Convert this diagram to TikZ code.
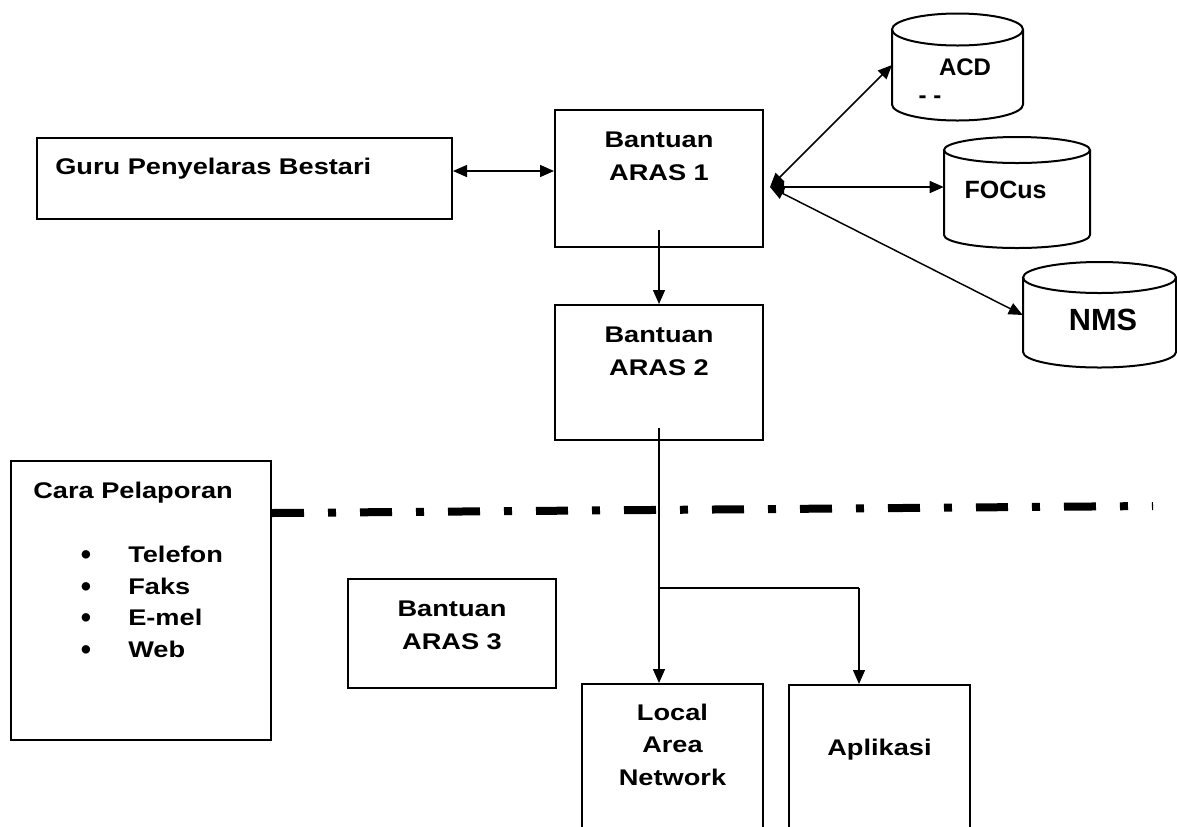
\documentclass[tikz,border=0pt]{standalone}
\usepackage{fontspec}
\setmainfont{Liberation Sans}
\newfontfamily\widefont{Liberation Sans}[FakeStretch=1.2]
\usetikzlibrary{arrows.meta,fit}

% cylinder: left x, right x, top-centre y, bottom-centre y, y radius
\newcommand\drumshape[5]{%
  \draw[cylline] (#1,#3) -- (#1,#4)
    arc[start angle=180,end angle=0,x radius={(#2-#1)/2},y radius=#5] -- (#2,#3);
  \draw[cylline] ({(#1+#2)/2},#3) ellipse[x radius={(#2-#1)/2},y radius=#5];}

\begin{document}
\begin{tikzpicture}[x=0.75pt,y=-0.75pt,
  box/.style={draw,line width=1.5pt,inner sep=0pt},
  ghost/.style={inner sep=0pt},
  txt/.style={font=\widefont\bfseries\fontsize{17}{20}\selectfont,inner sep=0pt},
  dbtxt/.style={font=\bfseries\fontsize{#1}{#1}\selectfont,inner sep=0pt},
  cylline/.style={line width=1.5pt},
  conn/.style={line width=1.1pt},
  tip/.style={-{Triangle[length=10.5pt,width=9pt]}},
  bitip/.style={{Triangle[length=10.5pt,width=9pt]}-{Triangle[length=10.5pt,width=9pt]}},
  dashdot/.style={line width=6pt,dash pattern=on 24pt off 18pt on 6pt off 18pt}]
\useasboundingbox (0,0) rectangle (1177,826);
\clip (0,0) rectangle (1177,826);

% boxes
\node[box,fit={(37,138)(452,219)}] (guru) {};
\node[box,fit={(555,110)(763,247)}] (aras1) {};
\node[box,fit={(555,305)(763,440)}] (aras2) {};
\node[box,fit={(348,579)(556,688)}] (aras3) {};
\node[box,fit={(11,461)(271,740)}] (cara) {};
\node[box,fit={(582,684)(763,850)}] (lan) {};
\node[box,fit={(789,685)(970,850)}] (apl) {};

% databases
\drumshape{892}{1023}{29.5}{104.5}{16}
\drumshape{944}{1090}{150}{235}{13}
\drumshape{1023}{1176}{277.5}{352}{15.5}
\node[ghost,fit={(892,13)(1023,120.5)}] (acd) {};
\node[ghost,fit={(944,137)(1090,248)}] (focus) {};
\node[ghost,fit={(1023,262)(1176,368)}] (nms) {};

% texts
\node[txt,anchor=base west] (tguru) at (55,174) {Guru Penyelaras Bestari};
\node[txt,anchor=base] (ta1a) at (659,147) {Bantuan};
\node[txt,anchor=base] (ta1b) at (659,180) {ARAS 1};
\node[txt,anchor=base] (ta2a) at (659,342) {Bantuan};
\node[txt,anchor=base] (ta2b) at (659,375) {ARAS 2};
\node[txt,anchor=base] (ta3a) at (452,616.5) {Bantuan};
\node[txt,anchor=base] (ta3b) at (452,649) {ARAS 3};
\node[txt,anchor=base west] (tcara) at (33,498) {Cara Pelaporan};
\foreach \yy/\word [count=\i] in {562/Telefon,594/Faks,625/E-mel,657/Web}{
  \node[dbtxt=22,anchor=base] (bul\i) at (86,\yy+2) {•};
  \node[txt,anchor=base west] (item\i) at (128,\yy) {\word};
}
\node[txt,anchor=base] (tlan1) at (672.5,720) {Local};
\node[txt,anchor=base] (tlan2) at (672.5,752.5) {Area};
\node[txt,anchor=base] (tlan3) at (672.5,785) {Network};
\node[txt,anchor=base] (tapl) at (879.5,755) {Aplikasi};
\node[dbtxt=18,anchor=base] (tacd) at (965,75) {ACD};
\node[dbtxt=18,anchor=base] (tacd2) at (930,103) {- -};
\node[dbtxt=18.75,anchor=base] (tfocus) at (1005.5,198) {FOCus};
\node[dbtxt=23,anchor=base] (tnms) at (1103,330) {NMS};

% connectors
\coordinate (gy) at (0,171);
\draw[conn,bitip] (guru.east |- gy) -- (aras1.west |- gy);
\coordinate (s1) at (659,230);
\draw[conn,tip] (s1) -- (s1 |- aras2.north);
\coordinate (J) at (770,187);
\draw[conn,bitip] (J) -- (892,65);
\draw[conn,bitip] (J) -- (focus.west |- J);
\draw[conn,bitip] (J) -- (nms.west);
\coordinate (s2) at (659,428);
\coordinate (br) at (859,588);
\draw[conn,tip] (s2) -- (s2 |- lan.north);
\draw[conn] (s2 |- br) -- (br);
\draw[conn,tip] (br) -- (br |- apl.north);

% reporting boundary
\coordinate (d0) at (cara.east |- 0,513);
\coordinate (d1) at (1153,506);
\draw[dashdot] (d0) -- (d1);
\end{tikzpicture}
\end{document}
